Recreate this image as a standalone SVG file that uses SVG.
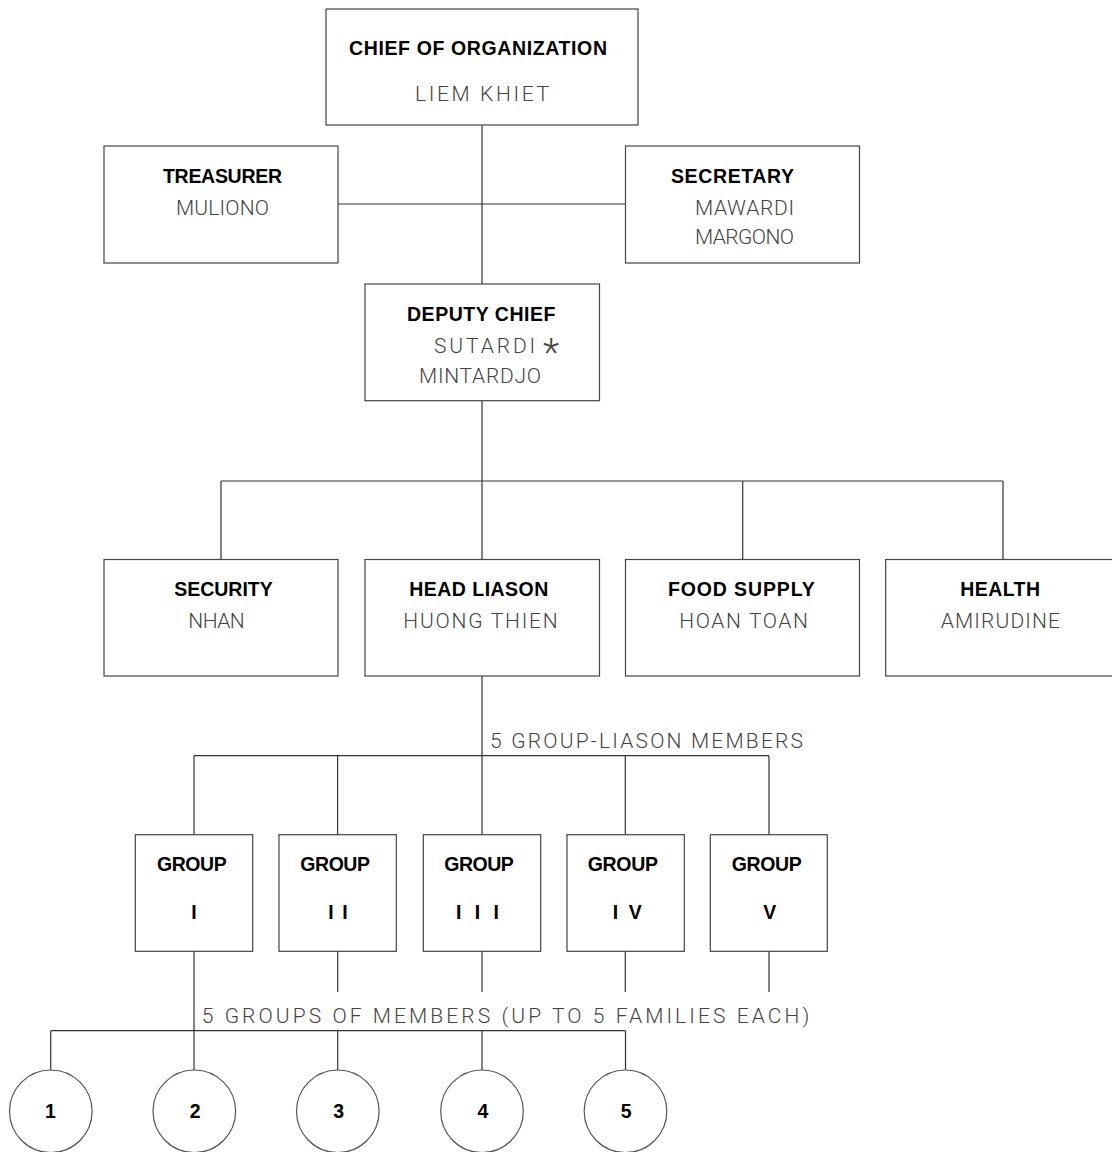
<svg xmlns="http://www.w3.org/2000/svg" width="1112" height="1152" viewBox="0 0 1112 1152">
<style>
.box{fill:#fff;stroke:#444;stroke-width:1.2}
.circ{fill:#fff;stroke:#555;stroke-width:1.2}
.conn{stroke:#333;stroke-width:1.2;fill:none}
.t{font-family:"Liberation Sans",Arial,sans-serif;font-weight:bold;font-size:19.5px;fill:#000}
.n{font-family:Roboto,"Liberation Sans",sans-serif;font-weight:300;font-size:21px;fill:#444}
</style>
<rect width="1112" height="1152" fill="#fff"/>
<g id="connectors">
<path class="conn" d="M482 125V284M338 204H625.5M482 400.7V559.5M221 481H1003M221 481V559.5M742.7 481V559.5M1003 481V559.5M482 676V834.7M194 755.7H769M194 755.7V834.7M337.6 755.7V834.7M625.3 755.7V834.7M769 755.7V834.7M194 951.3V1070M337.7 951.3V992M482 951.3V992M625.3 951.3V992M769 951.3V992M50.7 1030.7H625.5M50.7 1030.7V1070M337.7 1030.7V1070M482 1030.7V1070M625.5 1030.7V1070"/>
<text class="n" x="490" y="748.3" textLength="313" lengthAdjust="spacing">5 GROUP-LIASON MEMBERS</text>
<text class="n" x="201.7" y="1023.3" textLength="607.6" lengthAdjust="spacing">5 GROUPS OF MEMBERS (UP TO 5 FAMILIES EACH)</text>
</g>
<g id="chief">
<rect class="box" x="326" y="9" width="312" height="116"/>
<text class="t" x="349" y="55" textLength="258" lengthAdjust="spacing">CHIEF OF ORGANIZATION</text>
<text class="n" x="415" y="100.5" textLength="134" lengthAdjust="spacing">LIEM KHIET</text>
</g>
<g id="treasurer">
<rect class="box" x="104" y="146" width="234" height="117"/>
<text class="t" x="163" y="182.5" textLength="119" lengthAdjust="spacing">TREASURER</text>
<text class="n" x="176" y="214.7" textLength="93" lengthAdjust="spacing">MULIONO</text>
</g>
<g id="secretary">
<rect class="box" x="625.5" y="146" width="234" height="117"/>
<text class="t" x="671" y="182.5" textLength="123" lengthAdjust="spacing">SECRETARY</text>
<text class="n" x="695" y="214.7" textLength="99" lengthAdjust="spacing">MAWARDI</text>
<text class="n" x="695" y="244.3" textLength="99" lengthAdjust="spacing">MARGONO</text>
</g>
<g id="deputy">
<rect class="box" x="365" y="284" width="234.5" height="116.7"/>
<text class="t" x="407" y="320.7" textLength="148.5" lengthAdjust="spacing">DEPUTY CHIEF</text>
<text class="n" x="434" y="352.7"><tspan letter-spacing="2.9px">SUTARDI</tspan> <tspan x="543" dy="13.5" font-size="38px">*</tspan></text>
<text class="n" x="419" y="383.3" textLength="122" lengthAdjust="spacing">MINTARDJO</text>
</g>
<g id="security">
<rect class="box" x="104" y="559.5" width="234" height="116.5"/>
<text class="t" x="174.3" y="596" textLength="98.4" lengthAdjust="spacing">SECURITY</text>
<text class="n" x="188.3" y="627.7" textLength="56.4" lengthAdjust="spacing">NHAN</text>
</g>
<g id="head-liason">
<rect class="box" x="365" y="559.5" width="234.5" height="116.5"/>
<text class="t" x="409.3" y="596" textLength="139" lengthAdjust="spacing">HEAD LIASON</text>
<text class="n" x="403.3" y="627.7" textLength="154.4" lengthAdjust="spacing">HUONG THIEN</text>
</g>
<g id="food-supply">
<rect class="box" x="625.5" y="559.5" width="234" height="116.5"/>
<text class="t" x="668" y="596" textLength="146.7" lengthAdjust="spacing">FOOD SUPPLY</text>
<text class="n" x="679.3" y="627.7" textLength="128.7" lengthAdjust="spacing">HOAN TOAN</text>
</g>
<g id="health">
<rect class="box" x="885.7" y="559.5" width="240" height="116.5"/>
<text class="t" x="960.3" y="596" textLength="79.7" lengthAdjust="spacing">HEALTH</text>
<text class="n" x="940.7" y="627.7" textLength="119.3" lengthAdjust="spacing">AMIRUDINE</text>
</g>
<g id="group-1">
<rect class="box" x="135.3" y="834.7" width="117.4" height="116.6"/>
<text class="t" x="157" y="871" textLength="69.7" lengthAdjust="spacing">GROUP</text>
<text class="t" x="191.3" y="918.7">I</text>
</g>
<g id="group-2">
<rect class="box" x="279" y="834.7" width="117.3" height="116.6"/>
<text class="t" x="300.3" y="871" textLength="69.7" lengthAdjust="spacing">GROUP</text>
<text class="t" x="328.3" y="918.7" textLength="19.4" lengthAdjust="spacing">I I</text>
</g>
<g id="group-3">
<rect class="box" x="423.3" y="834.7" width="117.4" height="116.6"/>
<text class="t" x="444.3" y="871" textLength="69.5" lengthAdjust="spacing">GROUP</text>
<text class="t" x="456" y="918.7" textLength="43" lengthAdjust="spacing">I I I</text>
</g>
<g id="group-4">
<rect class="box" x="567" y="834.7" width="117.3" height="116.6"/>
<text class="t" x="587.7" y="871" textLength="70.3" lengthAdjust="spacing">GROUP</text>
<text class="t" x="612.7" y="918.7" textLength="29" lengthAdjust="spacing">I V</text>
</g>
<g id="group-5">
<rect class="box" x="710.3" y="834.7" width="117" height="116.6"/>
<text class="t" x="731.7" y="871" textLength="70" lengthAdjust="spacing">GROUP</text>
<text class="t" x="763.3" y="918.7">V</text>
</g>
<g id="family-1">
<circle class="circ" cx="50.8" cy="1111.3" r="41.3"/>
<text class="t" x="50.5" y="1117.7" text-anchor="middle">1</text>
</g>
<g id="family-2">
<circle class="circ" cx="194.3" cy="1111.3" r="41.3"/>
<text class="t" x="195.3" y="1117.7" text-anchor="middle">2</text>
</g>
<g id="family-3">
<circle class="circ" cx="337.8" cy="1111.3" r="41.3"/>
<text class="t" x="338.8" y="1117.7" text-anchor="middle">3</text>
</g>
<g id="family-4">
<circle class="circ" cx="482" cy="1111.3" r="41.3"/>
<text class="t" x="483" y="1117.7" text-anchor="middle">4</text>
</g>
<g id="family-5">
<circle class="circ" cx="625.5" cy="1111.3" r="41.3"/>
<text class="t" x="626.3" y="1117.7" text-anchor="middle">5</text>
</g>
</svg>
